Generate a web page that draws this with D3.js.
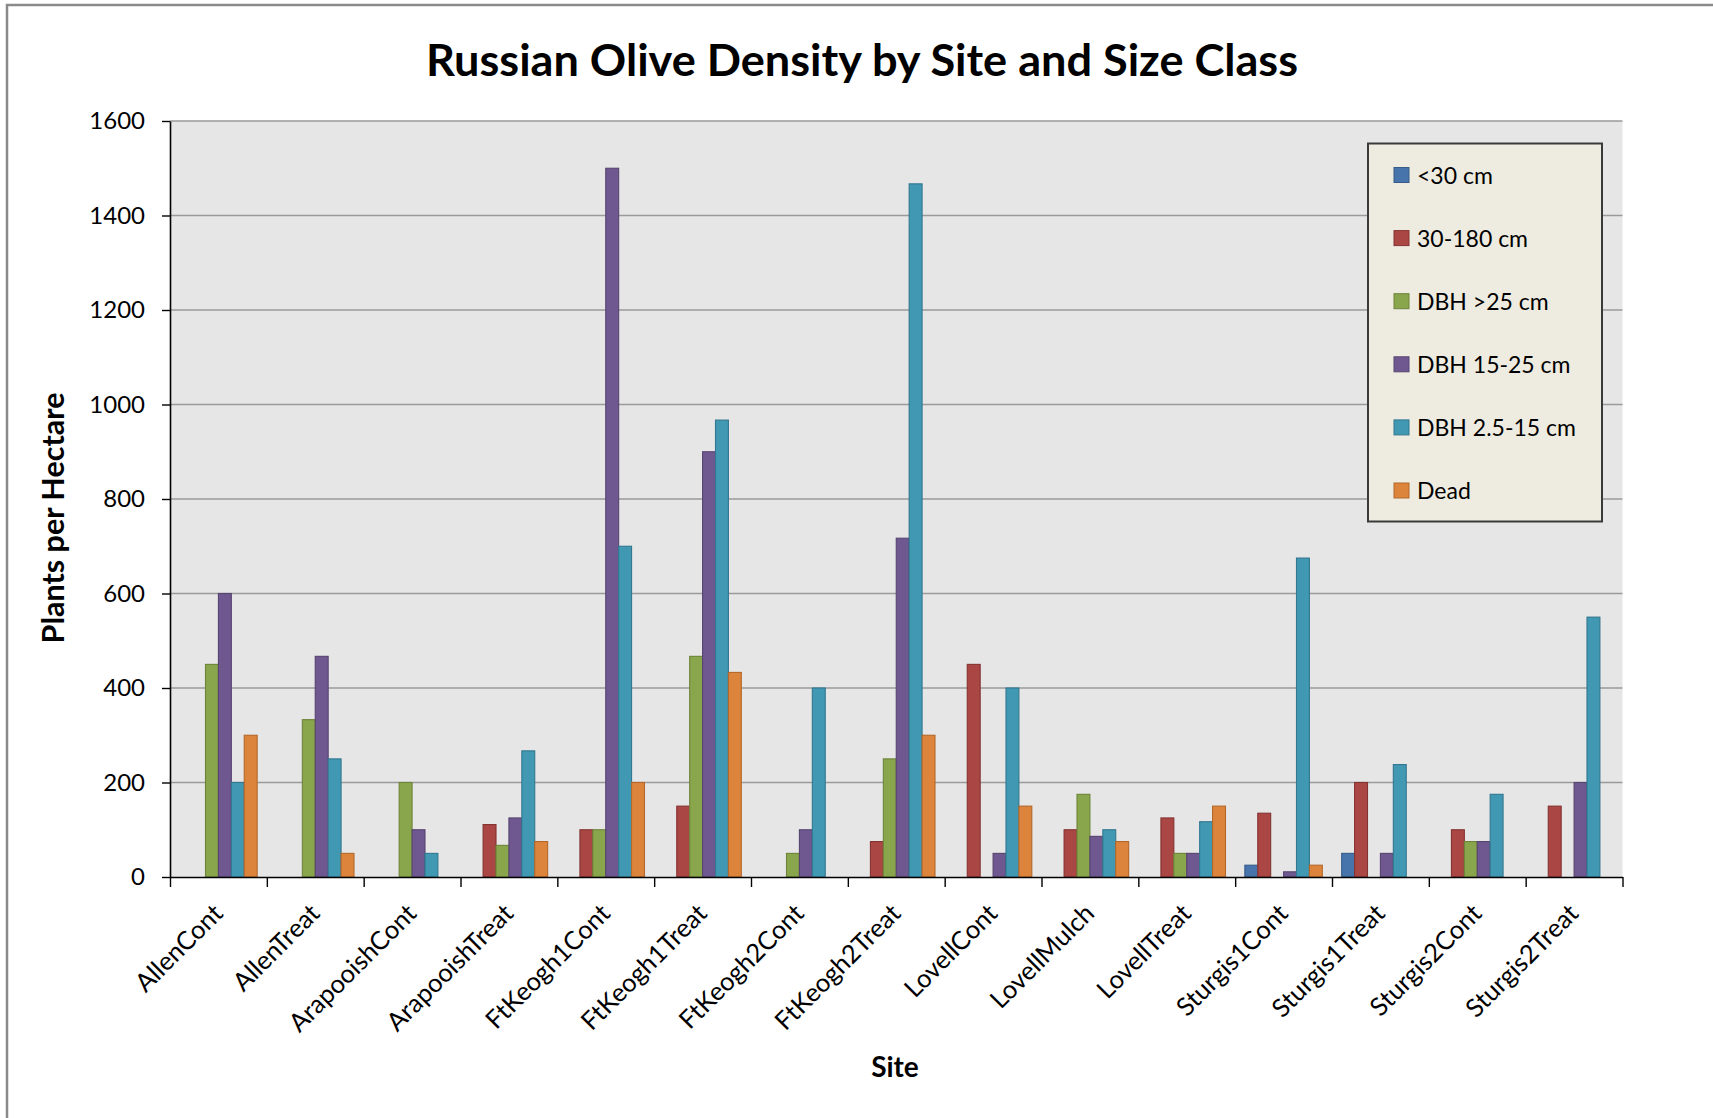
<!DOCTYPE html>
<html>
<head>
<meta charset="utf-8">
<script src="https://cdn.jsdelivr.net/npm/d3@7"></script>
<style>
  html, body { margin: 0; padding: 0; background: #ffffff; }
  svg { display: block; }
  text { font-family: Lato, "Open Sans", sans-serif; fill: #000; }
</style>
</head>
<body>
<svg id="chart" width="1713" height="1118"></svg>
<script>
// Sites along the x axis
const sites = [
  "AllenCont", "AllenTreat", "ArapooishCont", "ArapooishTreat",
  "FtKeogh1Cont", "FtKeogh1Treat", "FtKeogh2Cont", "FtKeogh2Treat",
  "LovellCont", "LovellMulch", "LovellTreat", "Sturgis1Cont",
  "Sturgis1Treat", "Sturgis2Cont", "Sturgis2Treat"
];

// Size classes (series)
const sizeClasses = ["<30 cm", "30-180 cm", "DBH >25 cm", "DBH 15-25 cm", "DBH 2.5-15 cm", "Dead"];

// Plants per hectare, one array per size class, in site order
const under30    = [0, 0, 0, 0, 0, 0, 0, 0, 0, 0, 0, 25, 50, 0, 0];
const cm30to180  = [0, 0, 0, 111, 100, 150, 0, 75, 450, 100, 125, 135, 200, 100, 150];
const dbhOver25  = [450, 333, 200, 67, 100, 467, 50, 250, 0, 175, 50, 0, 0, 75, 0];
const dbh15to25  = [600, 467, 100, 125, 1500, 900, 100, 717, 50, 86, 50, 11, 50, 75, 200];
const dbh2to15   = [200, 250, 50, 267, 700, 967, 400, 1467, 400, 100, 117, 675, 238, 175, 550];
const dead       = [300, 50, 0, 75, 200, 433, 0, 300, 150, 75, 150, 25, 0, 0, 0];

const seriesValues = [under30, cm30to180, dbhOver25, dbh15to25, dbh2to15, dead];

// Y axis tick values
const yTicks = [0, 200, 400, 600, 800, 1000, 1200, 1400, 1600];

const fills   = ["#4674ab", "#aa4644", "#8aa64c", "#6f5890", "#4198b2", "#dc843c"];
const strokes = ["#365b88", "#853331", "#6c8439", "#574470", "#317790", "#b3672a"];

const svg = d3.select("#chart");

// Outer chart frame
svg.append("rect")
  .attr("x", 7).attr("y", 5)
  .attr("width", 1760).attr("height", 1160)
  .attr("fill", "none")
  .attr("stroke", "#8a8a8a")
  .attr("stroke-width", 2.5);

const plot = { left: 170, right: 1622.5, top: 121, bottom: 877 };

const x = d3.scaleBand()
  .domain(sites)
  .range([plot.left, plot.right])
  .padding(0);

// Bars inside a category: gap of 150% of one bar width, split on both sides
const xs = d3.scaleBand()
  .domain(d3.range(sizeClasses.length))
  .range([0, x.bandwidth()])
  .paddingInner(0)
  .paddingOuter(0.75);

const y = d3.scaleLinear()
  .domain([0, 1600])
  .range([plot.bottom, plot.top]);

// Plot area background
svg.append("rect")
  .attr("x", plot.left).attr("y", plot.top)
  .attr("width", plot.right - plot.left)
  .attr("height", plot.bottom - plot.top)
  .attr("fill", "#e6e6e6");

// Horizontal gridlines
svg.append("g")
  .selectAll("line")
  .data(yTicks.filter(d => d > 0))
  .join("line")
  .attr("x1", plot.left).attr("x2", plot.right)
  .attr("y1", d => y(d)).attr("y2", d => y(d))
  .attr("stroke", "#9a9a9a")
  .attr("stroke-width", 1.6);

// Bars
const rows = [];
sites.forEach((s, i) => {
  seriesValues.forEach((vals, k) => {
    if (vals[i] > 0) rows.push({ site: s, k: k, value: vals[i] });
  });
});

svg.append("g")
  .selectAll("rect")
  .data(rows)
  .join("rect")
  .attr("x", d => x(d.site) + xs(d.k))
  .attr("y", d => y(d.value))
  .attr("width", xs.bandwidth())
  .attr("height", d => y(0) - y(d.value))
  .attr("fill", d => fills[d.k])
  .attr("stroke", d => strokes[d.k])
  .attr("stroke-width", 1.1);

// Y axis
const yAxis = svg.append("g")
  .attr("transform", `translate(${plot.left},0)`)
  .call(d3.axisLeft(y).tickValues(yTicks).tickFormat(d3.format("d"))
    .tickSize(8).tickPadding(17).tickSizeOuter(0));
yAxis.select(".domain").attr("stroke", "#000").attr("stroke-width", 1.6);
yAxis.selectAll(".tick line").attr("stroke", "#000").attr("stroke-width", 1.4);
yAxis.selectAll(".tick text")
  .attr("font-family", "Lato, sans-serif")
  .attr("font-size", 24)
  .attr("fill", "#000");

// X axis: tick marks on category boundaries
const xEdges = d3.scaleLinear().domain([0, sites.length]).range([plot.left, plot.right]);
const xTickAxis = svg.append("g")
  .attr("transform", `translate(0,${plot.bottom})`)
  .call(d3.axisBottom(xEdges).ticks(sites.length).tickSize(10).tickFormat("").tickSizeOuter(0));
xTickAxis.select(".domain").attr("stroke", "#000").attr("stroke-width", 1.6);
xTickAxis.selectAll(".tick line").attr("stroke", "#000").attr("stroke-width", 1.4);

// X axis: rotated site names
const xLabelAxis = svg.append("g")
  .attr("transform", `translate(0,${plot.bottom})`)
  .call(d3.axisBottom(x).tickSize(0).tickFormat(d => d));
xLabelAxis.select(".domain").remove();
xLabelAxis.selectAll(".tick text")
  .attr("font-family", "Lato, sans-serif")
  .attr("font-size", 25.5)
  .attr("fill", "#000")
  .attr("text-anchor", "end")
  .attr("x", 0).attr("y", 0).attr("dy", null)
  .attr("transform", "translate(6,38) rotate(-45)");

// Title
svg.append("text")
  .attr("x", 862).attr("y", 76)
  .attr("text-anchor", "middle")
  .attr("font-size", 43)
  .attr("font-weight", "bold")
  .attr("textLength", 872)
  .attr("lengthAdjust", "spacingAndGlyphs")
  .text("Russian Olive Density by Site and Size Class");

// Axis titles
svg.append("text")
  .attr("transform", "translate(64,518) rotate(-90)")
  .attr("text-anchor", "middle")
  .attr("font-size", 30.5)
  .attr("font-weight", "bold")
  .text("Plants per Hectare");

svg.append("text")
  .attr("x", 895).attr("y", 1077)
  .attr("text-anchor", "middle")
  .attr("font-size", 28)
  .attr("font-weight", "bold")
  .text("Site");

// Legend
const legend = svg.append("g");
legend.append("rect")
  .attr("x", 1368).attr("y", 143.5)
  .attr("width", 234).attr("height", 378)
  .attr("fill", "#eeece1")
  .attr("stroke", "#3a3a3a")
  .attr("stroke-width", 2);

const legendY = d3.scalePoint()
  .domain(sizeClasses)
  .range([175, 490.5]);

const items = legend.selectAll("g.item")
  .data(sizeClasses)
  .join("g")
  .attr("class", "item")
  .attr("transform", d => `translate(1394,${legendY(d)})`);

items.append("rect")
  .attr("x", 0).attr("y", -7.5)
  .attr("width", 15).attr("height", 15)
  .attr("fill", (d, i) => fills[i])
  .attr("stroke", (d, i) => strokes[i])
  .attr("stroke-width", 1);

items.append("text")
  .attr("x", 23).attr("y", 8.5)
  .attr("font-size", 23)
  .text(d => d);
</script>
</body>
</html>
